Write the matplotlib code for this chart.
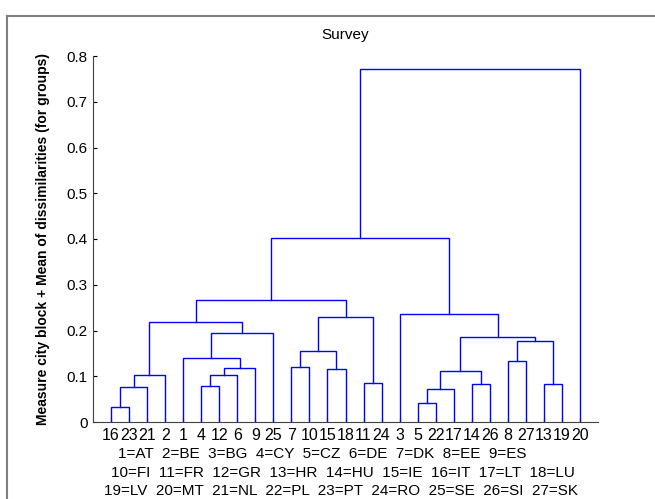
import matplotlib
matplotlib.use('Agg')
import matplotlib.pyplot as plt
from matplotlib.lines import Line2D

plt.rcParams['font.family'] = ['Liberation Sans', 'DejaVu Sans']

# linkage rows: left child, right child, merge height
# leaves are country numbers 1..27, merged clusters are 28, 29, ... in row order
left = [16, 5, 29, 28, 4, 14, 13, 11, 31, 32, 30, 15, 37, 7, 8, 1, 41, 42, 38, 43, 36, 44, 3, 48, 51, 52]
right = [23, 22, 17, 21, 12, 26, 19, 24, 2, 6, 33, 18, 9, 10, 27, 40, 39, 34, 45, 25, 47, 35, 46, 49, 50, 20]
height = [0.033, 0.042, 0.073, 0.0765, 0.0787, 0.0824, 0.0824, 0.085, 0.102, 0.102,
          0.1115, 0.1166, 0.117, 0.1195, 0.1326, 0.140, 0.155, 0.178, 0.185, 0.195,
          0.218, 0.229, 0.237, 0.2667, 0.403, 0.772]

legend_lines = [
    "1=AT  2=BE  3=BG  4=CY  5=CZ  6=DE  7=DK  8=EE  9=ES",
    "10=FI  11=FR  12=GR  13=HR  14=HU  15=IE  16=IT  17=LT  18=LU",
    "19=LV  20=MT  21=NL  22=PL  23=PT  24=RO  25=SE  26=SI  27=SK",
]

n_leaves = 27
children = {n_leaves + 1 + i: (left[i], right[i], height[i]) for i in range(len(left))}
root = n_leaves + len(left)

# leaf order from a left-first walk of the tree
order = []
def walk(node):
    if node <= n_leaves:
        order.append(node)
    else:
        a, b, _ = children[node]
        walk(a)
        walk(b)
walk(root)

pos = {leaf: i + 1 for i, leaf in enumerate(order)}
hgt = {leaf: 0.0 for leaf in order}
for node in sorted(children):
    a, b, h = children[node]
    pos[node] = (pos[a] + pos[b]) / 2
    hgt[node] = h

fig = plt.figure(figsize=(6.55, 4.99), dpi=100)
ax = fig.add_axes([93 / 655, 1 - 422 / 499, (598 - 93) / 655, (422 - 56) / 499])

for node in sorted(children):
    a, b, h = children[node]
    ax.plot([pos[a], pos[a], pos[b], pos[b]], [hgt[a], h, h, hgt[b]],
            color='#0000ff', lw=1.0, solid_joinstyle='miter')

ax.set_xlim(0, 28)
ax.set_ylim(0, 0.8)
ax.set_xticks(range(1, n_leaves + 1))
ax.set_xticklabels([str(v) for v in order], fontsize=11.5)
ax.set_yticks([0, 0.1, 0.2, 0.3, 0.4, 0.5, 0.6, 0.7, 0.8])
ax.set_yticklabels(['0', '0.1', '0.2', '0.3', '0.4', '0.5', '0.6', '0.7', '0.8'], fontsize=11)
ax.tick_params(direction='in', length=3, width=0.8, pad=4)
ax.spines['top'].set_visible(False)
ax.spines['right'].set_visible(False)
ax.spines['left'].set_color('#404040')
ax.spines['bottom'].set_color('#404040')

ax.set_ylabel('Measure city block + Mean of dissimilarities (for groups)',
              fontsize=10, fontweight='bold')
ax.yaxis.set_label_coords((50 - 93) / 505, 0.5)
ax.set_title('Survey', fontsize=11, pad=12)

for txt, x, y in zip(legend_lines, [118, 111, 104], [454, 473, 491]):
    fig.text(x / 655, 1 - y / 499, txt, fontsize=11, ha='left', va='center')

# outer frame
fig.add_artist(Line2D([7 / 655, 7 / 655], [0, 1 - 16 / 499], color='#808080', lw=1.5))
fig.add_artist(Line2D([7 / 655, 1], [1 - 16 / 499, 1 - 16 / 499], color='#808080', lw=1.5))

fig.savefig('out.png', dpi=100)
